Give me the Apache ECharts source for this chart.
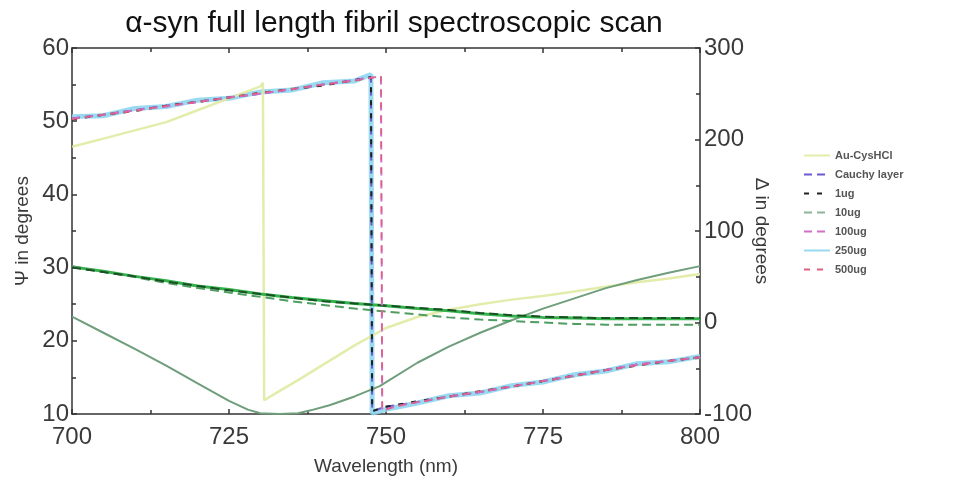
<!DOCTYPE html>
<html>
<head>
<meta charset="utf-8">
<script src="https://cdn.jsdelivr.net/npm/echarts@6/dist/echarts.min.js"></script>
<style>
html,body{margin:0;padding:0;background:#fff;}
#chart{width:955px;height:482px;}
</style>
</head>
<body>
<div id="chart"></div>
<script>
// ---- Data ----
const legendNames = ['Au-CysHCl', 'Cauchy layer', '1ug', '10ug', '100ug', '250ug', '500ug'];
const xTicks = [700, 725, 750, 775, 800];
const psiTicks = [10, 20, 30, 40, 50, 60];
const deltaTicks = [-100, 0, 100, 200, 300];

// Delta (right axis) — wrap near 747.7 nm
const wlDeltaA = [700, 705, 710, 715, 720, 725, 730, 735, 740, 745, 747.6, 747.8, 750, 755, 760, 765, 770, 775, 780, 785, 790, 795, 800];
const deltaCauchy = [223, 227, 232, 237, 241, 246, 250, 255, 260, 265, 268, -97, -92, -87, -81, -76, -70, -64, -58, -52, -46, -42, -38];
const delta1ug    = [222, 227, 231, 237, 241, 246, 251, 255, 259, 265, 268, -97, -92, -86, -81, -75, -70, -64, -58, -52, -47, -42, -38];
const delta10ug   = [223, 228, 232, 236, 242, 246, 250, 256, 260, 264, 268, -96, -92, -87, -81, -76, -70, -64, -59, -52, -46, -42, -39];
const delta250ug  = [225, 226, 234, 236, 243, 245, 252, 254, 262, 264, 271, -99, -95, -88, -80, -77, -69, -65, -57, -53, -45, -43, -37];
// Delta — wrap near 749.3 nm
const wlDeltaB = [700, 705, 710, 715, 720, 725, 730, 735, 740, 745, 749.2, 749.4, 752, 755, 760, 765, 770, 775, 780, 785, 790, 795, 800];
const delta100ug  = [223, 227, 232, 236, 241, 246, 250, 255, 260, 265, 269, -96, -91, -87, -81, -76, -70, -64, -58, -52, -46, -42, -38];
const delta500ug  = [222, 227, 231, 237, 241, 246, 251, 255, 260, 264, 269, -96, -91, -87, -81, -75, -70, -64, -58, -52, -47, -42, -38];
// Au-CysHCl Delta — wrap near 730.5 nm
const wlDeltaAu = [700, 705, 710, 715, 720, 725, 730, 730.4, 730.6, 733, 736, 740, 745, 750, 755, 760, 765, 770, 775, 780, 785, 790, 795, 800];
const deltaAu   = [192, 201, 210, 219, 232, 245, 258, 262, -85, -75, -63, -46, -25, -6, 6, 14, 20, 25, 29, 34, 39, 44, 48, 53];

// Psi (left axis)
const wlPsi = [700, 705, 710, 715, 720, 725, 730, 735, 740, 745, 750, 755, 760, 765, 770, 775, 780, 785, 790, 795, 800];
const psi1ug   = [30.0, 29.4, 28.8, 28.1, 27.5, 26.9, 26.4, 25.9, 25.4, 25.1, 24.8, 24.5, 24.2, 23.8, 23.5, 23.3, 23.2, 23.1, 23.1, 23.1, 23.1];
const psiGreen = [30.1, 29.5, 28.8, 28.2, 27.5, 27.0, 26.4, 25.9, 25.5, 25.1, 24.8, 24.4, 24.1, 23.7, 23.4, 23.2, 23.1, 23.0, 23.0, 23.0, 23.0];
const psi10ug  = [30.2, 29.4, 28.7, 27.9, 27.2, 26.6, 26.0, 25.4, 24.9, 24.4, 24.0, 23.6, 23.2, 22.9, 22.7, 22.5, 22.3, 22.2, 22.2, 22.2, 22.2];
const wlPsiAu = [700, 705, 710, 715, 720, 725, 728, 730, 733, 736, 738, 741, 745, 749, 755, 760, 765, 770, 775, 780, 785, 790, 795, 800];
const psiAu   = [23.3, 21.1, 18.9, 16.6, 14.2, 11.8, 10.6, 10.1, 10.0, 10.1, 10.5, 11.2, 12.4, 13.8, 17.0, 19.2, 21.1, 22.8, 24.4, 25.8, 27.2, 28.3, 29.3, 30.2];

function pairs(xs, ys) { return xs.map((x, i) => [x, ys[i]]); }

const tickFont = { fontFamily: 'Liberation Sans, sans-serif', fontSize: 24, color: '#3a3a3a' };

function lineSeries(name, xs, ys, yIdx, color, width, type, opacity) {
  return {
    name: name, type: 'line', xAxisIndex: 0, yAxisIndex: yIdx,
    data: pairs(xs, ys), symbol: 'none', showSymbol: false, smooth: false,
    lineStyle: { color: color, width: width, type: type, opacity: opacity == null ? 1 : opacity },
    itemStyle: { color: color }, silent: true, animation: false
  };
}

const chart = echarts.init(document.getElementById('chart'), null, { renderer: 'canvas' });
const axisLine = { show: true, onZero: false, lineStyle: { color: '#333', width: 1.5 } };
const tick = { show: true, inside: true, length: 5, lineStyle: { color: '#333', width: 1.5 } };
const minor = { show: true, splitNumber: 2, length: 4, lineStyle: { color: '#333', width: 1.5 } };
const option = {
  backgroundColor: '#ffffff',
  animation: false,
  title: {
    text: 'α-syn full length fibril spectroscopic scan',
    left: 389, top: 4, textAlign: 'center',
    textStyle: { fontFamily: 'Liberation Sans, Arial, sans-serif', fontSize: 30, fontWeight: 'normal', color: '#111' }
  },
  legend: {
    data: legendNames, orient: 'vertical', left: 803, top: 150,
    itemWidth: 26, itemHeight: 12, itemGap: 8, padding: 0,
    itemStyle: { opacity: 0 },
    textStyle: { fontFamily: 'Liberation Sans, sans-serif', fontSize: 11, fontWeight: 'bold', color: '#555' }
  },
  grid: { left: 72, right: 255, top: 48, bottom: 68, containLabel: false },
  xAxis: [
    { type: 'value', position: 'bottom', min: 700, max: 800, interval: 25,
      name: 'Wavelength (nm)', nameLocation: 'middle', nameGap: 43,
      nameTextStyle: { fontFamily: 'Liberation Sans, sans-serif', fontSize: 19, color: '#3a3a3a' },
      axisLine: axisLine, axisTick: tick, minorTick: minor,
      axisLabel: Object.assign({ margin: 11 }, tickFont),
      splitLine: { show: false } },
    { type: 'value', position: 'top', min: 700, max: 800, interval: 25,
      axisLine: axisLine, axisTick: tick, minorTick: minor,
      axisLabel: { show: false }, splitLine: { show: false } }
  ],
  yAxis: [
    { type: 'value', position: 'left', min: 10, max: 60, interval: 10,
      name: 'Ψ in degrees', nameLocation: 'middle', nameGap: 40, nameRotate: 90, nameMoveOverlap: false,
      nameTextStyle: { fontFamily: 'Liberation Sans, sans-serif', fontSize: 19, color: '#3a3a3a' },
      axisLine: axisLine, axisTick: tick, minorTick: minor,
      axisLabel: Object.assign({ margin: 3 }, tickFont),
      splitLine: { show: false } },
    { type: 'value', position: 'right', min: -100, max: 300, interval: 100,
      name: 'Δ in degrees', nameLocation: 'middle', nameGap: 52, nameRotate: -90, nameMoveOverlap: false,
      nameTextStyle: { fontFamily: 'Liberation Sans, sans-serif', fontSize: 19, color: '#3a3a3a' },
      axisLine: axisLine, axisTick: tick, minorTick: minor,
      axisLabel: Object.assign({ margin: 4 }, tickFont),
      splitLine: { show: false } }
  ],
  series: [
    lineSeries('250ug', wlDeltaA, delta250ug, 1, '#8fd6f0', 5, 'solid', 0.9),
    lineSeries('Au-CysHCl', wlDeltaAu, deltaAu, 1, '#dfe99c', 2.5, 'solid', 0.85),
    lineSeries('Ψ Au-CysHCl', wlPsiAu, psiAu, 0, '#6f9e7b', 2, 'solid'),
    lineSeries('Ψ 250ug', wlPsi, psiGreen, 0, '#34b34c', 3, 'solid'),
    lineSeries('Ψ 10ug', wlPsi, psi10ug, 0, '#4f9d61', 2, [9, 5]),
    lineSeries('Ψ 1ug', wlPsi, psi1ug, 0, '#1b4f26', 2, [9, 5]),
    lineSeries('10ug', wlDeltaA, delta10ug, 1, '#8fb39a', 1.5, [8, 5]),
    lineSeries('Cauchy layer', wlDeltaA, deltaCauchy, 1, '#6a5acd', 2, [8, 5]),
    lineSeries('1ug', wlDeltaA, delta1ug, 1, '#222222', 2, [5, 8]),
    lineSeries('100ug', wlDeltaB, delta100ug, 1, '#d070c8', 2, [8, 5]),
    lineSeries('500ug', wlDeltaB, delta500ug, 1, '#e06080', 1.5, [6, 7])
  ]
};
chart.setOption(option);
</script>
</body>
</html>
